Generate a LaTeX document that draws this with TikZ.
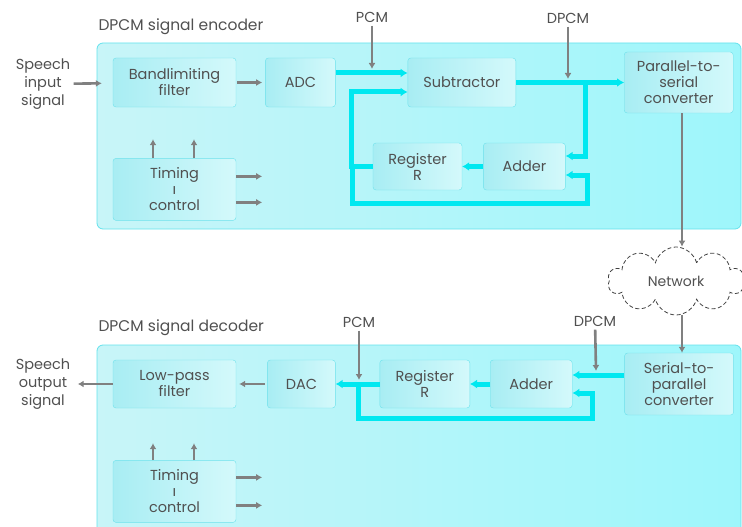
\documentclass[tikz,border=0pt]{standalone}
\usepackage{fontspec}
\setmainfont{Poppins}
\usetikzlibrary{positioning,shapes.symbols,arrows.meta}

\definecolor{frameline}{RGB}{100,226,236}
\definecolor{frameL}{RGB}{200,245,248}
\definecolor{frameM}{RGB}{212,249,251}
\definecolor{frameR}{RGB}{158,246,251}
\definecolor{boxline}{RGB}{110,226,236}
\definecolor{boxL}{RGB}{168,237,243}
\definecolor{boxR}{RGB}{212,249,251}
\definecolor{buscyan}{RGB}{0,232,240}
\definecolor{arrowgray}{RGB}{128,128,128}
\definecolor{txt}{RGB}{80,80,80}

\begin{document}
\begin{tikzpicture}[x=1pt,y=-1pt]
\tikzstyle{frame}=[rounded corners=6pt, draw=frameline, thick, left color=frameL, middle color=frameM, right color=frameR]
\tikzstyle{block}=[rectangle, rounded corners=3pt, draw=boxline, left color=boxL, right color=boxR, text=txt, align=center, inner sep=0pt, font=\fontsize{14.5}{16}\selectfont]
\tikzstyle{note}=[text=txt, align=center, font=\fontsize{14.5}{18}\selectfont]
\tikzstyle{connect}=[-{Latex[length=6pt,width=7pt]}, line width=2.6pt, draw=arrowgray]
\tikzstyle{thickbus}=[-{Latex[length=7pt,width=9pt]}, line width=5pt, draw=buscyan]
\useasboundingbox (0,0) rectangle (742,527);

% encoder
\draw[frame] (97,43) rectangle (741,229);
\node[note, anchor=west, font=\fontsize{15.5}{18}\selectfont] (encTitle) at (95,27) {DPCM signal encoder};
\node[note] (spIn) at (43,84) {Speech\\input\\signal};
\node[block, minimum width=123pt, minimum height=49pt] (filter) at (174.5,82.5) {Bandlimiting\\filter};
\node[block, minimum width=70pt, minimum height=49pt, right=29pt of filter] (adc) {ADC};
\node[block, minimum width=108pt, minimum height=49pt, right=72pt of adc] (sub) {Subtractor};
\node[block, minimum width=109pt, minimum height=61pt, right=108pt of sub] (p2s) {Parallel-to-\\serial\\converter};
\node[block, minimum width=123pt, minimum height=62pt, below=51pt of filter] (timeE) {Timing\\ı\\control};
\node[block, minimum width=89pt, minimum height=47pt] (regE) at (417.5,166.5) {Register\\R};
\node[block, minimum width=82pt, minimum height=47pt, right=21pt of regE] (addE) {Adder};
\node[note] (pcmE) at (372,17) {PCM};
\node[note] (dpcmE) at (568,18) {DPCM};
\coordinate (tipPcmE) at (372,69);
\coordinate (tipDpcmE) at (568,79);
\coordinate (jE) at (585,82.5);
\coordinate (loopE) at (352,203);
\coordinate (loopEr) at (587,203);

\draw[thickbus] ([yshift=9.5pt]adc.east) -- ([yshift=9.5pt]sub.west);
\draw[thickbus] (sub) -- (p2s);
\draw[thickbus] (jE) |- ([yshift=10.5pt]addE.east);
\draw[thickbus] (addE) -- (regE);
\draw[thickbus] (regE.west) -| (loopE) -- (loopEr) |- ([yshift=-8.5pt]addE.east);
\draw[thickbus] (regE.west) -- ++(-21,0) |- ([yshift=-9.5pt]sub.west);

\draw[connect, shorten >=11pt] (spIn) -- (filter);
\draw[connect, shorten <=1pt, shorten >=3pt] (filter) -- (adc);
\draw[connect] (pcmE) -- (tipPcmE);
\draw[connect] (dpcmE) -- (tipDpcmE);
\draw[connect] ([xshift=-21.5pt]timeE.north) -- ++(0,-19);
\draw[connect] ([xshift=19.5pt]timeE.north) -- ++(0,-19);
\draw[connect] ([yshift=13pt]timeE.east) -- ++(26,0);
\draw[connect] ([yshift=-13pt]timeE.east) -- ++(26,0);

% network
\node[cloud, draw=black!75, dash pattern=on 4pt off 2.5pt, thick, cloud puffs=10, aspect=2.2, minimum width=136pt, minimum height=68pt, text=txt, font=\fontsize{14}{15}\selectfont] (net) at (676,281) {Network};
\draw[connect] (p2s.south -| 682,0) -- (net.north -| 682,0);

% decoder
\draw[frame] (97,345) rectangle (741,560);
\node[note, anchor=west, font=\fontsize{15.5}{18}\selectfont] (decTitle) at (95,328) {DPCM signal decoder};
\node[note] (spOut) at (43,384) {Speech\\output\\signal};
\node[block, minimum width=123pt, minimum height=48pt] (lpf) at (174.5,384) {Low-pass\\filter};
\node[block, minimum width=68pt, minimum height=48pt, right=31pt of lpf] (dac) {DAC};
\node[block, minimum width=90pt, minimum height=48pt, right=44pt of dac] (regD) {Register\\R};
\node[block, minimum width=82pt, minimum height=48pt, right=20pt of regD] (addD) {Adder};
\node[block, minimum width=109pt, minimum height=62pt, right=52pt of addD] (s2p) {Serial-to-\\parallel\\converter};
\node[block, minimum width=123pt, minimum height=62pt, below=52pt of lpf] (timeD) {Timing\\ı\\control};
\node[note] (pcmD) at (359,322) {PCM};
\node[note] (dpcmD) at (595,321) {DPCM};
\coordinate (tipPcmD) at (359,380);
\coordinate (tipDpcmD) at (596,371);
\coordinate (jD) at (358,384);
\coordinate (loopD) at (592,418);

\draw[thickbus] ([yshift=9pt]s2p.west) -- ([yshift=9pt]addD.east);
\draw[thickbus] (addD) -- (regD);
\draw[thickbus] (regD) -- (dac);
\draw[thickbus] (jD) |- (loopD) |- ([yshift=-9pt]addD.east);

\draw[connect] (net.south -| 682,0) -- (s2p.north -| 682,0);
\draw[connect, shorten >=4pt] (lpf) -- (spOut);
\draw[connect, shorten <=2pt, shorten >=3pt] (dac) -- (lpf);
\draw[connect] (pcmD) -- (tipPcmD);
\draw[connect] (dpcmD) -- (tipDpcmD);
\draw[connect] ([xshift=-21.5pt]timeD.north) -- ++(0,-17);
\draw[connect] ([xshift=19.5pt]timeD.north) -- ++(0,-17);
\draw[connect] ([yshift=14pt]timeD.east) -- ++(26,0);
\draw[connect] ([yshift=-14pt]timeD.east) -- ++(26,0);
\end{tikzpicture}
\end{document}
